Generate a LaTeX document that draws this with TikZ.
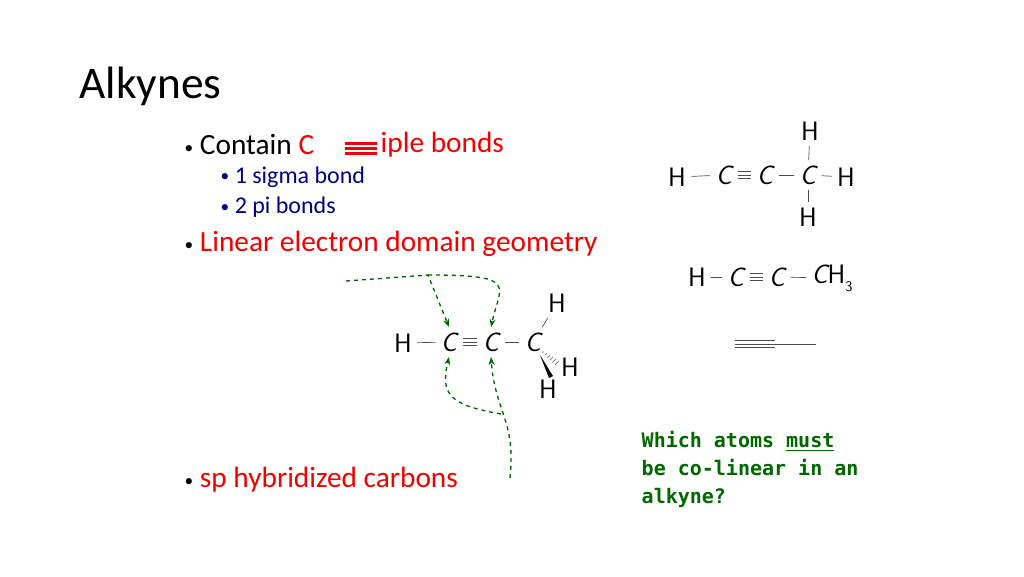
\documentclass[tikz,border=0pt]{standalone}
\usepackage{fontspec}
\setmainfont{Carlito}
\newfontfamily\qfont{DejaVu Sans Mono}
\usepackage{tikz}
\usetikzlibrary{arrows.meta,calc}
\newcommand{\bul}{{\fontsize{13}{13}\selectfont\raisebox{1pt}{\textbullet}}\ }
\begin{document}
\begin{tikzpicture}[x=0.75pt,y=-0.75pt,
    chem/.style={font=\sffamily\fontsize{20}{20}\selectfont, inner sep=4pt},
    bond/.style={line width=0.5pt, gray!60!black},
    guide/.style={dashed, line width=1pt, green!40!black, -{Stealth[length=6pt]}}]
    %colores
    \colorlet{rred}{red!95!black}
    \colorlet{bblue}{blue!50!black}
    \useasboundingbox (0,0) rectangle (1024,576);

    % Titulo y vinetas
    \node[anchor=west, font=\fontsize{34}{34}\selectfont] (title) at (75,86) {Alkynes};
    \node[anchor=west, font=\fontsize{22}{22}\selectfont] (b1) at (180,145) {\bul Contain \textcolor{rred}{C}};
    \node[anchor=west, font=\fontsize{22}{22}\selectfont, text=rred] (b1b) at (376,145) {iple bonds};
    \foreach \dy in {-5,0,5}
        \fill[rred] (345,147+\dy) rectangle (377,150+\dy);
    \node[anchor=west, font=\fontsize{18}{18}\selectfont, text=bblue] (s1) at (216,177) {\bul 1 sigma bond};
    \node[anchor=west, font=\fontsize{18}{18}\selectfont, text=bblue] (s2) at (216,207) {\bul 2 pi bonds};
    \node[anchor=west, font=\fontsize{22}{22}\selectfont] (b2) at (180,244) {\bul \textcolor{rred}{Linear electron domain geometry}};
    \node[anchor=west, font=\fontsize{22}{22}\selectfont] (b3) at (180,480) {\bul \textcolor{rred}{sp hybridized carbons}};

    % Propino, formula desarrollada
    \node[chem] (h1) at (677,177) {H};
    \node[chem] (c1) at (724,175) {\itshape C};
    \node[chem] (c2) at (765,175) {\itshape C};
    \node[chem] (c3) at (808,175) {\itshape C};
    \node[chem] (h2) at (846,177) {H};
    \node[chem] (h3) at (810,131) {H};
    \node[chem] (h4) at (808,217) {H};
    \draw[bond] (h1) -- (c1); \draw[bond] (c2) -- (c3); \draw[bond] (c3) -- (h2);
    \draw[bond] (c3) -- (h3); \draw[bond] (c3) -- (h4);
    \foreach \dy in {-2.5,0,2.5}
        \draw[bond] ([yshift=\dy]c1.east) -- ([yshift=\dy]c2.west);

    % Propino, condensada
    \node[chem] (k1) at (697,277) {H};
    \node[chem] (k2) at (736,277) {\itshape C};
    \node[chem] (k3) at (777,277) {\itshape C};
    \node[chem, anchor=west] (k4) at (806,278) {\itshape C\upshape H\raisebox{-6pt}{\fontsize{11}{11}\selectfont 3}};
    \draw[bond] (k1) -- (k2); \draw[bond] (k3) -- (k4);
    \foreach \dy in {-2.5,0,2.5}
        \draw[bond] ([yshift=\dy]k2.east) -- ([yshift=\dy]k3.west);

    % Propino, esqueleto
    \coordinate (l1) at (735,344);
    \coordinate (l2) at (775,344);
    \coordinate (l3) at (816,344);
    \foreach \dy in {-2.5,0,2.5}
        \draw[bond] ([yshift=\dy]l1) -- ([yshift=\dy]l2);
    \draw[bond] (l2) -- (l3);

    % Propino, 3D
    \node[chem] (m1) at (403,343) {H};
    \node[chem] (m2) at (449,342) {\itshape C};
    \node[chem] (m3) at (491,342) {\itshape C};
    \node[chem] (m4) at (533,342) {\itshape C};
    \node[chem] (m5) at (557,303) {H};
    \node[chem] (m6) at (570,367) {H};
    \node[chem] (m7) at (548,389) {H};
    \draw[bond] (m1) -- (m2); \draw[bond] (m3) -- (m4); \draw[bond] (m4) -- (m5);
    \foreach \dy in {-2.5,0,2.5}
        \draw[bond] ([yshift=\dy]m2.east) -- ([yshift=\dy]m3.west);
    \fill (540,355) -- (553,376) -- (549,378) -- cycle;
    \foreach \t in {0,0.2,...,1}
        \draw[gray, line width=0.6pt] ($(543,352)!\t!(557,363)$) ++(-1.5*\t-0.5,1.5*\t+0.5) -- ++(3*\t+1,-3*\t-1);

    % Flechas guia
    \coordinate (g1) at (346,281);
    \coordinate (g2) at (428,275);
    \coordinate (g3) at (510,478);
    \draw[guide] (g1) -- (g2) -- (m2.north);
    \draw[guide] (g2) .. controls (520,275) and (500,285) .. (m3.north);
    \draw[guide] (g3) .. controls (516,420) and (495,412) .. (m3.south);
    \draw[guide] (501,414) .. controls (450,405) and (440,395) .. (m2.south);

    % Pregunta
    \node[anchor=north west, align=left, text=green!40!black, font=\qfont\fontsize{15}{21}\selectfont\bfseries] (q) at (637,427)
        {Which atoms \underline{must}\\be co-linear in an\\alkyne?};
\end{tikzpicture}
\end{document}
